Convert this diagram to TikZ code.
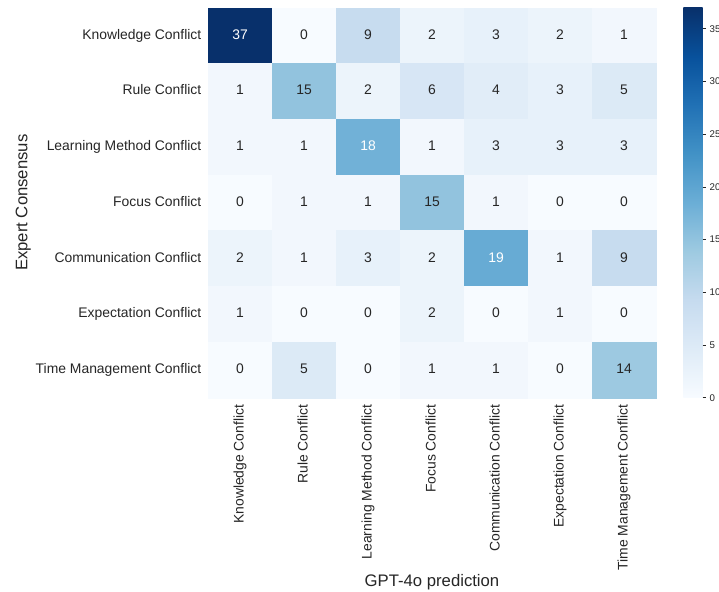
\documentclass[tikz,border=0pt]{standalone}
\usepackage{fontspec}
\setmainfont{Liberation Sans}
\definecolor{txt}{RGB}{38,38,38}
\definecolor{b0}{HTML}{F7FBFF}
\definecolor{b1}{HTML}{DEEBF7}
\definecolor{b2}{HTML}{C6DBEF}
\definecolor{b3}{HTML}{9ECAE1}
\definecolor{b4}{HTML}{6BAED6}
\definecolor{b5}{HTML}{4292C6}
\definecolor{b6}{HTML}{2171B5}
\definecolor{b7}{HTML}{08519C}
\definecolor{b8}{HTML}{08306B}
\newcommand\defcell[3]{\definecolor{cv#1}{RGB}{#2}\colorlet{tc#1}{#3}}
\defcell{0}{247,251,255}{txt}
\defcell{1}{242,247,253}{txt}
\defcell{2}{236,244,251}{txt}
\defcell{3}{231,241,250}{txt}
\defcell{4}{225,237,248}{txt}
\defcell{5}{220,234,246}{txt}
\defcell{6}{215,230,245}{txt}
\defcell{9}{199,220,239}{txt}
\defcell{14}{157,201,225}{txt}
\defcell{15}{146,195,222}{txt}
\defcell{18}{113,177,215}{white}
\defcell{19}{103,171,212}{white}
\defcell{37}{8,48,107}{white}
\pgfdeclareverticalshading{bluesbar}{100bp}{color(0bp)=(b0); color(25bp)=(b0); color(31.25bp)=(b1); color(37.5bp)=(b2); color(43.75bp)=(b3); color(50bp)=(b4); color(56.25bp)=(b5); color(62.5bp)=(b6); color(68.75bp)=(b7); color(75bp)=(b8); color(100bp)=(b8)}
\tikzset{
  cellbox/.style={minimum width=64bp, minimum height=55.7bp, inner sep=0pt, outer sep=0pt,
    text height=10.1bp, text depth=2.9bp, line width=0.4bp,
    font=\fontsize{13.9bp}{16bp}\selectfont},
  rowlab/.style={anchor=east, inner sep=0pt, text=txt, text height=10.1bp, text depth=2.9bp,
    font=\fontsize{13.9bp}{16bp}\selectfont},
  collab/.style={rowlab, rotate=90},
  axlab/.style={anchor=base, inner sep=0pt, text=txt, font=\fontsize{16.7bp}{20bp}\selectfont},
  cbtick/.style={anchor=west, inner sep=0pt, text=txt, text height=6.7bp, text depth=0pt,
    font=\fontsize{9.7bp}{11bp}\selectfont},
  tickmark/.style={txt, line width=0.8bp},
}
\begin{document}
\begin{tikzpicture}[x=1bp,y=-1bp]
\useasboundingbox[fill=white] (0,0) rectangle (719,592);
% heatmap cells
\foreach \r/\vals in {1/{37,0,9,2,3,2,1},2/{1,15,2,6,4,3,5},3/{1,1,18,1,3,3,3},4/{0,1,1,15,1,0,0},5/{2,1,3,2,19,1,9},6/{1,0,0,2,0,1,0},7/{0,5,0,1,1,0,14}}{
  \foreach \v [count=\c] in \vals {
    \node[cellbox, fill=cv\v, draw=cv\v, text=tc\v] (c\r-\c) at ({208+(\c-0.5)*64},{7.8+(\r-0.5)*55.7}) {\v};
  }
}
% row labels
\foreach \name [count=\r] in {Knowledge Conflict,Rule Conflict,Learning Method Conflict,Focus Conflict,Communication Conflict,Expectation Conflict,Time Management Conflict}{
  \node[rowlab] (row\r) at (201.5,{7.8+(\r-0.5)*55.7}) {\name};
  \node[collab] (col\r) at ({208+(\r-0.5)*64},404.5) {\name};
}
% axis labels
\node[axlab, rotate=90] (ylab) at (27.3,202.7) {Expert Consensus};
\node[axlab] (xlab) at (432,586.7) {GPT-4o prediction};
% colorbar
\shade[shading=bluesbar] (683.3,7.8) rectangle (702.7,397.7);
\foreach \t in {0,5,...,35}{
  \draw[tickmark] (702.7,{397.7-\t*10.538}) -- ++(3.5,0);
  \node[cbtick] (tick\t) at (709.5,{397.7-\t*10.538}) {\t};
}
\end{tikzpicture}
\end{document}
